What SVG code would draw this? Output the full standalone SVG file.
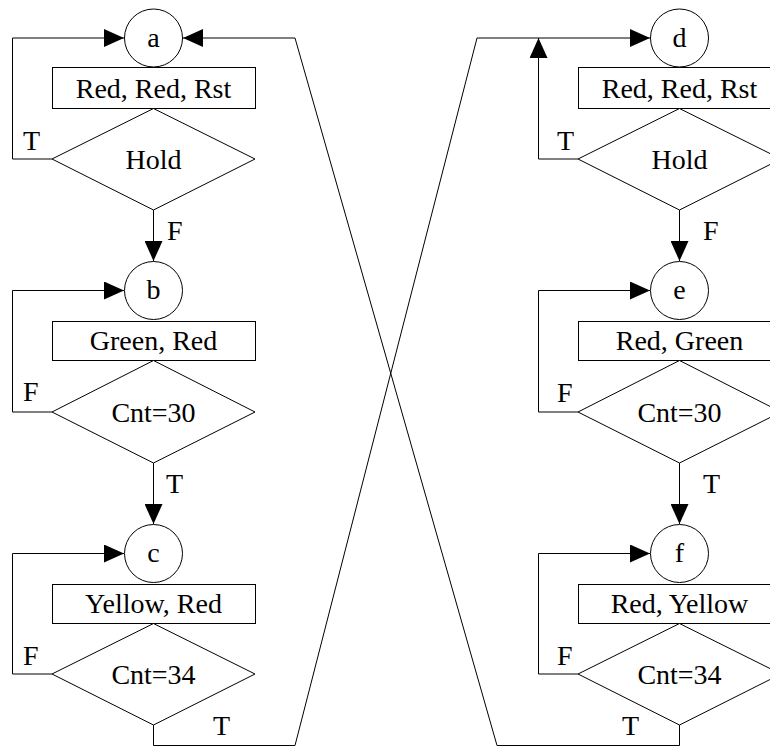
<svg xmlns="http://www.w3.org/2000/svg" width="770" height="747" viewBox="0 0 770 747">
<style>
  .shape{fill:#fff;stroke:#000;stroke-width:1}
  .line{fill:none;stroke:#000;stroke-width:1}
  text{font-family:"Liberation Serif","Times New Roman",serif;font-size:28px;fill:#000}
  .c{text-anchor:middle}
</style>
<defs>
  <marker id="arr" markerUnits="userSpaceOnUse" markerWidth="20" markerHeight="18" refX="20" refY="9" orient="auto">
    <path d="M0,0 L20,9 L0,18 Z" fill="#000"/>
  </marker>
</defs>
<rect width="770" height="747" fill="#fff"/>
<g id="connectors">
  <polyline class="line" points="153.5,210 153.5,261" marker-end="url(#arr)"/>
  <polyline class="line" points="153.5,463 153.5,524" marker-end="url(#arr)"/>
  <polyline class="line" points="52,159 12.5,159 12.5,38 124,38" marker-end="url(#arr)"/>
  <polyline class="line" points="52,412 12.5,412 12.5,290.5 124,290.5" marker-end="url(#arr)"/>
  <polyline class="line" points="52,674 12.5,674 12.5,553.5 124,553.5" marker-end="url(#arr)"/>
  <polyline class="line" points="153.5,725 153.5,745.5 295,745.5 477,38 650,38" marker-end="url(#arr)"/>
  <polyline class="line" points="578,159 538.5,159 538.5,38" marker-end="url(#arr)"/>
  <polyline class="line" points="679.5,210 679.5,261" marker-end="url(#arr)"/>
  <polyline class="line" points="679.5,463 679.5,524" marker-end="url(#arr)"/>
  <polyline class="line" points="578,412 538.5,412 538.5,290.5 650,290.5" marker-end="url(#arr)"/>
  <polyline class="line" points="578,674 538.5,674 538.5,553.5 650,553.5" marker-end="url(#arr)"/>
  <polyline class="line" points="679.5,725 679.5,745.5 497,745.5 295,38 183,38" marker-end="url(#arr)"/>
  <text x="167" y="240">F</text>
  <text x="166" y="493">T</text>
  <text x="23" y="150">T</text>
  <text x="23" y="401">F</text>
  <text x="23" y="665">F</text>
  <text x="213" y="735">T</text>
  <text x="557" y="150">T</text>
  <text x="703" y="240">F</text>
  <text x="703" y="493">T</text>
  <text x="557" y="402">F</text>
  <text x="557" y="665">F</text>
  <text x="622" y="735">T</text>
</g>
<g id="a"><circle class="shape" cx="153.5" cy="38" r="29"/><text class="c" x="153.5" y="47">a</text></g>
<g id="a_act"><rect class="shape" x="52.5" y="67.5" width="203" height="41"/><text class="c" x="153.5" y="98">Red, Red, Rst</text></g>
<g id="a_dec"><polygon class="shape" points="153.5,108.5 255,159 153.5,210 52,159"/><text class="c" x="153.5" y="169">Hold</text></g>
<g id="b"><circle class="shape" cx="153.5" cy="290.5" r="29"/><text class="c" x="153.5" y="299">b</text></g>
<g id="b_act"><rect class="shape" x="52.5" y="321.5" width="203" height="39"/><text class="c" x="153.5" y="350">Green, Red</text></g>
<g id="b_dec"><polygon class="shape" points="153.5,360.5 255,412 153.5,463 52,412"/><text class="c" x="153.5" y="422">Cnt=30</text></g>
<g id="c"><circle class="shape" cx="153.5" cy="553.5" r="29"/><text class="c" x="153.5" y="562">c</text></g>
<g id="c_act"><rect class="shape" x="52.5" y="584.5" width="203" height="39"/><text class="c" x="153.5" y="613">Yellow, Red</text></g>
<g id="c_dec"><polygon class="shape" points="153.5,623.5 255,674 153.5,725 52,674"/><text class="c" x="153.5" y="684">Cnt=34</text></g>
<g id="d"><circle class="shape" cx="679.5" cy="38" r="29"/><text class="c" x="679.5" y="47">d</text></g>
<g id="d_act"><rect class="shape" x="578.5" y="67.5" width="203" height="41"/><text class="c" x="679.5" y="98">Red, Red, Rst</text></g>
<g id="d_dec"><polygon class="shape" points="679.5,108.5 781,159 679.5,210 578,159"/><text class="c" x="679.5" y="169">Hold</text></g>
<g id="e"><circle class="shape" cx="679.5" cy="290.5" r="29"/><text class="c" x="679.5" y="299">e</text></g>
<g id="e_act"><rect class="shape" x="578.5" y="321.5" width="203" height="39"/><text class="c" x="679.5" y="350">Red, Green</text></g>
<g id="e_dec"><polygon class="shape" points="679.5,360.5 781,412 679.5,463 578,412"/><text class="c" x="679.5" y="422">Cnt=30</text></g>
<g id="f"><circle class="shape" cx="679.5" cy="553.5" r="29"/><text class="c" x="679.5" y="562">f</text></g>
<g id="f_act"><rect class="shape" x="578.5" y="584.5" width="203" height="39"/><text class="c" x="679.5" y="613">Red, Yellow</text></g>
<g id="f_dec"><polygon class="shape" points="679.5,623.5 781,674 679.5,725 578,674"/><text class="c" x="679.5" y="684">Cnt=34</text></g>
</svg>
